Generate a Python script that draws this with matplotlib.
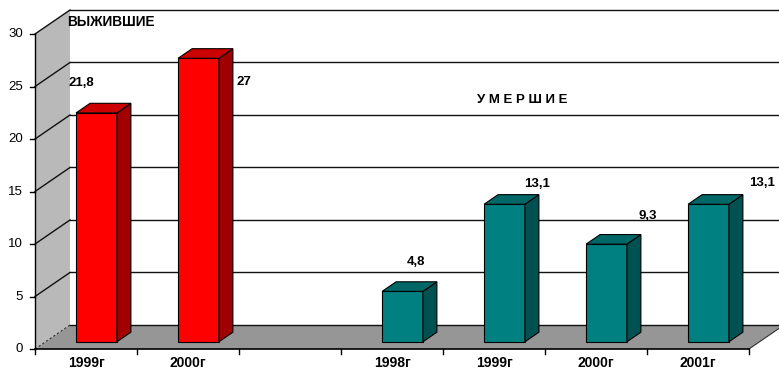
import matplotlib
matplotlib.use("Agg")
import matplotlib.pyplot as plt
from matplotlib.patches import Polygon

plt.rcParams["font.family"] = ["Liberation Sans", "DejaVu Sans"]

# data
survived_years = ["1999г", "2000г"]
survived = [21.8, 27.0]
died_years = ["1998г", "1999г", "2000г", "2001г"]
died = [4.8, 13.1, 9.3, 13.1]
y_ticks = [0, 5, 10, 15, 20, 25, 30]

categories = survived_years + [""] + died_years
n_cat = len(categories)

# fake 3d geometry (data units: 1 category wide, value units tall)
DX, DY = 0.343, 2.286        # full depth of the box
D0, D1 = 0.3, 0.7            # bars sit between these depth fractions
BAR_W = 0.4
YMAX = 30

RED = ("#ff0000", "#a00000", "#cc0000")
TEAL = ("#008080", "#005252", "#006767")


def draw_bar(ax, xc, v, colors):
    front, side, top = colors
    x0 = xc - BAR_W / 2 + D0 * DX
    b = D0 * DY
    ax.bar(x0, v, bottom=b, width=BAR_W, align="edge", color=front,
           edgecolor="black", linewidth=0.8, zorder=5)
    ddx, ddy = (D1 - D0) * DX, (D1 - D0) * DY
    x1 = x0 + BAR_W
    ax.add_patch(Polygon([(x1, b), (x1, b + v), (x1 + ddx, b + v + ddy), (x1 + ddx, b + ddy)],
                         closed=True, facecolor=side, edgecolor="black", lw=0.8, zorder=5))
    ax.add_patch(Polygon([(x0, b + v), (x1, b + v), (x1 + ddx, b + v + ddy), (x0 + ddx, b + v + ddy)],
                         closed=True, facecolor=top, edgecolor="black", lw=0.8, zorder=5))


fig = plt.figure(figsize=(7.79, 3.71), dpi=100)
ax = fig.add_axes([0, 0, 1, 1])
ax.set_xlim(-35 / 102, (779 - 35) / 102)
ax.set_ylim(-(371 - 349) / 10.5, 349 / 10.5)
ax.axis("off")

# left wall and floor
ax.add_patch(Polygon([(0, 0), (0, YMAX), (DX, YMAX + DY), (DX, DY)], closed=True,
                     facecolor="#b9b9b9", edgecolor="none", zorder=1))
ax.add_patch(Polygon([(0, 0), (n_cat, 0), (n_cat + DX, DY), (DX, DY)], closed=True,
                     facecolor="#969696", edgecolor="none", zorder=1))
ax.plot([n_cat, n_cat + DX], [0, DY], color="#333333", lw=0.8, zorder=2)
ax.plot([0, DX], [0, DY], color="#333333", lw=0.8, ls=(0, (2, 2)), zorder=2)

# gridlines on back wall and left wall
for t in y_ticks:
    ax.plot([DX, n_cat + DX + 1], [t + DY, t + DY], color="#111111", lw=1.0, zorder=2)
    if t > 0:
        ax.plot([0, DX], [t, t + DY], color="#111111", lw=1.0, zorder=2)

# bars
for i, v in enumerate(survived):
    draw_bar(ax, i + 0.5, v, RED)
start = len(survived_years) + 1
for i, v in enumerate(died):
    draw_bar(ax, start + i + 0.5, v, TEAL)

# value labels (offsets from category centre / bar top)
label_off = [(-0.044, 3.5), (0.544, -1.6), (0.235, 3.5), (0.422, 2.6), (0.51, 3.4), (0.627, 2.7)]
xs = [i + 0.5 for i in range(len(survived))] + [start + i + 0.5 for i in range(len(died))]
for (ox, oy), xc, v in zip(label_off, xs, survived + died):
    ax.text(xc + ox, v + oy, f"{v:g}".replace(".", ","), ha="center", va="center",
            fontsize=9.5, fontweight="bold", zorder=6)

# axes lines and ticks
ax.plot([0, 0], [0, YMAX], color="black", lw=1.0, zorder=6)
ax.plot([0, n_cat], [0, 0], color="black", lw=1.2, zorder=6)
for t in y_ticks:
    ax.plot([-0.049, 0], [t, t], color="black", lw=1.0, zorder=6)
    ax.text(-0.118, t, str(t), ha="right", va="center", fontsize=9.5, zorder=6)
for i in range(n_cat + 1):
    ax.plot([i, i], [0, -0.48], color="black", lw=1.0, zorder=6)
for i, c in enumerate(categories):
    ax.text(i + 0.5, -1.33, c, ha="center", va="center", fontsize=10, fontweight="bold")

# group titles
ax.text(0.741, 31.14, "ВЫЖИВШИЕ", ha="center", va="center", fontsize=9.8,
        fontweight="bold", zorder=6)
ax.text(4.775, 23.71, "У М Е Р Ш И Е", ha="center", va="center", fontsize=9.5,
        fontweight="bold", zorder=6)

fig.savefig("out.png", dpi=100)
